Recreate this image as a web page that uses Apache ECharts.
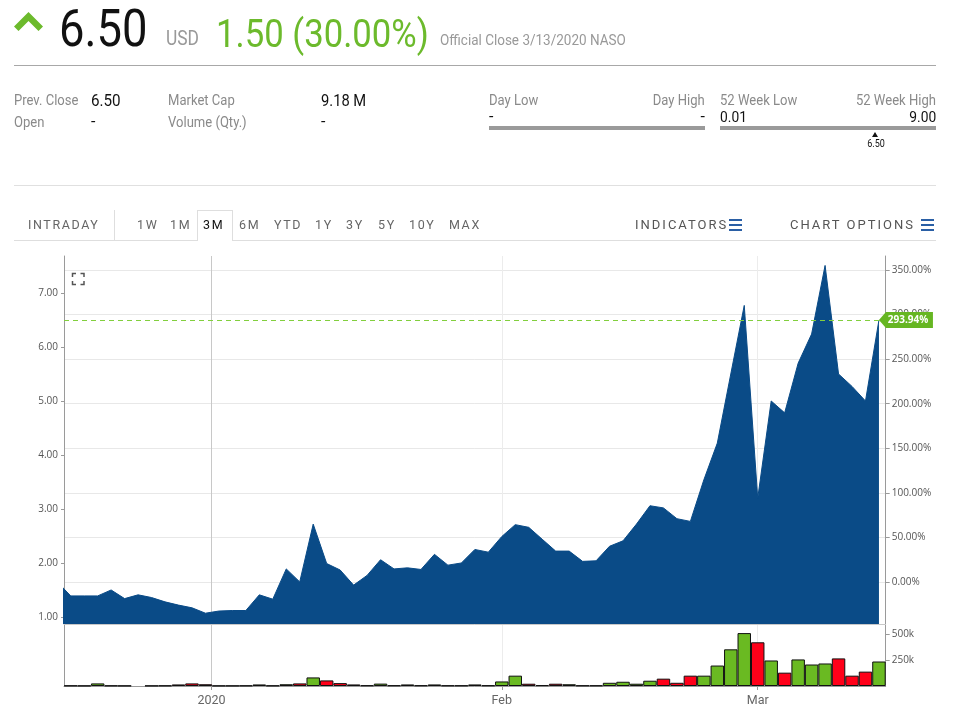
<!DOCTYPE html>
<html><head><meta charset="utf-8">
<script src="https://cdn.jsdelivr.net/npm/echarts@6/dist/echarts.min.js"></script>
<style>
html,body{margin:0;padding:0;background:#fff;}
#wrap{position:relative;width:963px;height:726px;overflow:hidden;}
#chart{position:absolute;left:0;top:0;width:963px;height:726px;}
.t{position:absolute;white-space:nowrap;line-height:1;font-family:"Roboto",sans-serif;}
.tab{font-family:"Roboto",sans-serif;letter-spacing:1.6px;font-size:12.5px;color:#666;}
.box{position:absolute;}
</style></head>
<body><div id="wrap"><div id="chart"></div></div>
<script>
// ---- data ----
const dates = ['2019-12-13','2019-12-16','2019-12-17','2019-12-18','2019-12-19','2019-12-20','2019-12-23','2019-12-24','2019-12-26','2019-12-27','2019-12-30','2019-12-31',
'2020-01-02','2020-01-03','2020-01-06','2020-01-07','2020-01-08','2020-01-09','2020-01-10','2020-01-13','2020-01-14','2020-01-15','2020-01-16','2020-01-17','2020-01-21','2020-01-22','2020-01-23','2020-01-24','2020-01-27','2020-01-28','2020-01-29','2020-01-30','2020-01-31',
'2020-02-03','2020-02-04','2020-02-05','2020-02-06','2020-02-07','2020-02-10','2020-02-11','2020-02-12','2020-02-13','2020-02-14','2020-02-18','2020-02-19','2020-02-20','2020-02-21','2020-02-24','2020-02-25','2020-02-26','2020-02-27','2020-02-28',
'2020-03-02','2020-03-03','2020-03-04','2020-03-05','2020-03-06','2020-03-09','2020-03-10','2020-03-11','2020-03-12','2020-03-13'];
const prices = [1.65,
1.39,1.39,1.39,1.50,1.34,1.41,1.36,1.28,1.22,1.17,
1.07,1.11,1.12,1.12,1.41,1.33,1.89,1.65,2.72,1.99,
1.87,1.59,1.77,2.06,1.89,1.91,1.88,2.16,1.96,2.00,
2.25,2.20,2.49,2.71,2.66,2.44,2.22,2.22,2.03,2.04,
2.31,2.41,2.72,3.06,3.02,2.82,2.77,3.54,4.22,5.50,
6.77,3.20,5.00,4.78,5.70,6.24,7.51,5.50,5.27,5.00,
6.50];
const volumes = [null,
4000,3000,25000,4000,3000,null,3000,4000,15000,25000,
17000,3000,3000,4000,15000,4000,17000,25000,83000,54000,
28000,15000,6000,23000,6000,15000,6000,15000,5000,5000,
15000,6000,44000,100000,22000,8000,22000,17000,5000,5000,
31000,41000,22000,51000,71000,31000,100000,100000,198000,355000,
512000,423000,247000,129000,257000,208000,218000,267000,100000,139000,
237000];
const priceTicks = [1,2,3,4,5,6,7];
const pctTicks = [0,50,100,150,200,250,300,350];
const volTicks = [250000,500000];
const volTickLabels = ['250k','500k'];
const monthTickPos = [11.45,33,52];
const monthTickLabels = ['2020','Feb','Mar'];

// header texts
const header = {
  price:'6.50', currency:'USD', change:'1.50 (30.00%)', note:'Official Close 3/13/2020 NASO',
  prevClose:'6.50', open:'-', marketCap:'9.18 M', volume:'-',
  dayLow:'-', dayHigh:'-', wkLow:0.01, wkHigh:9.00, current:6.50
};
const tabs = ['1W','1M','3M','6M','YTD','1Y','3Y','5Y','10Y','MAX'];
const tabX = [137,170,203,239,274,315,346,378,409,449];

// ---- overlay text ----
const wrap = document.getElementById('wrap');
function T(text, x, y, css, align, s, cls){
  s = s || 1;
  const d=document.createElement('div'); d.className='t '+(cls||''); d.textContent=text;
  d.style.cssText += (css||'');
  d.style.top=y+'px';
  if(align==='r'){ d.style.right=(963-x)+'px'; d.style.transformOrigin='right center'; d.style.transform=`translateY(-50%) scaleX(${s})`; }
  else if(align==='c'){ d.style.left=x+'px'; d.style.transformOrigin='center center'; d.style.transform=`translate(-50%,-50%) scaleX(${s})`; }
  else { d.style.left=x+'px'; d.style.transformOrigin='left center'; d.style.transform=`translateY(-50%) scaleX(${s})`; }
  wrap.appendChild(d); return d;
}
function B(x,y,w,h,css){const d=document.createElement('div');d.className='box';d.style.cssText=`left:${x}px;top:${y}px;width:${w}px;height:${h}px;`+(css||'');wrap.appendChild(d);return d;}

const N = 0.87;
T(header.price,59,28,'font-size:51px;color:#111;','l',0.89);
T(header.currency,166,38,'font-size:20px;color:#999;','l',N);
T(header.change,216,34,'font-size:39px;color:#6cba2c;','l',0.89);
T(header.note,440,40,'font-size:15px;color:#999;','l',0.9);
B(14,65,922,1,'background:#a8a8a8;');

const lab='font-size:15px;color:#8a8a8a;', val='font-size:16px;color:#111;';
T('Prev. Close',14,100,lab,'l',N); T(header.prevClose,91,101,val,'l',0.95);
T('Open',14,122,lab,'l',N); T(header.open,91,122,val);
T('Market Cap',168,100,lab,'l',N); T(header.marketCap,321,101,val,'l',0.92);
T('Volume (Qty.)',168,122,lab,'l',N); T(header.volume,321,122,val);
T('Day Low',489,100,lab,'l',N); T('Day High',705,100,lab,'r',N);
T(header.dayLow,489,117,val); T(header.dayHigh,705,117,val,'r');
B(489,126,216,4,'background:#9a9a9a;');
T('52 Week Low',720,100,lab,'l',N); T('52 Week High',936,100,lab,'r',N);
T(header.wkLow.toFixed(2),720,117,'font-size:15px;color:#111;','l',0.92); T(header.wkHigh.toFixed(2),936,117,'font-size:15px;color:#111;','r',0.92);
B(720,126,216,4,'background:#9a9a9a;');
const mx = 720 + (header.current-header.wkLow)/(header.wkHigh-header.wkLow)*216;
B(mx-3.5,132,0,0,'border-left:3.5px solid transparent;border-right:3.5px solid transparent;border-bottom:5px solid #111;');
T(header.current.toFixed(2),mx,144,'font-size:10px;color:#111;','c',0.9);
B(14,185,922,1,'background:#e0e0e0;');

// tabs
B(14,240,922,1,'background:#dedede;');
B(197,210,34,30,'border:1px solid #dedede;border-bottom:none;background:#fff;');
B(114,210,1,30,'background:#dedede;');
T('INTRADAY',28,225,'','l',1,'tab');
tabs.forEach((s,i)=>{const d=T(s,tabX[i],225,'','l',1,'tab'); if(s==='3M') d.style.color='#111';});
T('INDICATORS',635,224,'font-size:13px;color:#555;letter-spacing:2px;','l',1,'tab');
T('CHART OPTIONS',790,224,'font-size:13px;color:#555;letter-spacing:2px;','l',1,'tab');
[729,921].forEach(x=>{[219,224,229].forEach(y=>B(x,y,13,1.5,'background:#2a5fa5;'));});

// ---- chart ----
const base = prices[0];
const pct = v => (v/base-1)*100;
const priceMin = 0.87, priceMax = 7.685;
const last = prices[prices.length-1];
const lastK = prices.length-1;
const up = '#6aba22', down = '#ff0019';
const areaColor = '#0a4b87';

const priceData = prices.map((p,k)=>[k,p]);
const volData = [];
volumes.forEach((v,k)=>{ if(v==null) return; const isUp = prices[k] >= prices[k-1];
  volData.push({value:[k,v], itemStyle:{color:isUp?up:down}}); });

const monthFmt = v => { let b=0; monthTickPos.forEach((p,i)=>{ if(Math.abs(p-v)<Math.abs(monthTickPos[b]-v)) b=i;}); return monthTickLabels[b]; };
const splitCols = ['#c8c8c8','#ececec','#ececec'];
const axisFont = '"Open Sans", sans-serif';

const chart = echarts.init(document.getElementById('chart'), null, {renderer:'canvas'});
chart.setOption({
  animation:false,
  grid:[
    {left:64, top:256, width:821.7, height:368},
    {left:64, top:624, width:821.7, height:62}
  ],
  xAxis:[
    {gridIndex:0, type:'value', min:0.5, max:61.5,
     axisLine:{show:true, onZero:false, lineStyle:{color:'#c8c8c8'}},
     axisTick:{show:false, customValues:monthTickPos}, axisLabel:{show:false, customValues:monthTickPos},
     splitLine:{show:true, lineStyle:{color:splitCols, width:1}}},
    {gridIndex:1, type:'value', min:0.5, max:61.5,
     axisLine:{show:true, onZero:false, lineStyle:{color:'#9a9a9a'}},
     axisTick:{show:true, customValues:monthTickPos, length:4, lineStyle:{color:'#9a9a9a'}},
     axisLabel:{customValues:monthTickPos, formatter:monthFmt, color:'#666', fontSize:12.5, fontFamily:'Roboto, sans-serif', margin:8},
     splitLine:{show:true, lineStyle:{color:splitCols, width:1}}}
  ],
  yAxis:[
    {gridIndex:0, type:'value', position:'left', min:priceMin, max:priceMax,
     axisLine:{show:true, onZero:false, lineStyle:{color:'#9a9a9a'}},
     axisTick:{show:true, customValues:priceTicks, length:3, lineStyle:{color:'#9a9a9a'}},
     axisLabel:{customValues:priceTicks, formatter:v=>Number(v).toFixed(2), color:'#555', fontSize:10, fontFamily:axisFont, margin:6},
     splitLine:{show:false}},
    {gridIndex:0, type:'value', position:'right', min:pct(priceMin), max:pct(priceMax),
     axisLine:{show:true, onZero:false, lineStyle:{color:'#9a9a9a'}},
     axisTick:{show:true, customValues:pctTicks, length:4, lineStyle:{color:'#9a9a9a'}},
     axisLabel:{customValues:pctTicks, formatter:v=>Number(v).toFixed(2)+'%', color:'#555', fontSize:10, fontFamily:axisFont, margin:6},
     splitLine:{show:true, lineStyle:{color:'#e8e8e8'}}},
    {gridIndex:1, type:'value', position:'right', min:0, max:600000,
     axisLine:{show:true, onZero:false, lineStyle:{color:'#9a9a9a'}},
     axisTick:{show:true, customValues:volTicks, length:4, lineStyle:{color:'#9a9a9a'}},
     axisLabel:{customValues:volTicks, formatter:v=>volTickLabels[volTicks.indexOf(Number(v))], color:'#555', fontSize:10, fontFamily:axisFont, margin:6},
     splitLine:{show:false}},
    {gridIndex:1, type:'value', position:'left', min:0, max:600000,
     axisLine:{show:true, onZero:false, lineStyle:{color:'#9a9a9a'}},
     axisTick:{show:false}, axisLabel:{show:false}, splitLine:{show:false}}
  ],
  graphic:[
    {type:'polygon', shape:{points:[[28.5,12],[14,26.5],[18.5,31],[28.5,21],[38.5,31],[43,26.5]]}, style:{fill:'#6cba2c'}},
    {type:'polyline', shape:{points:[[72.5,277],[72.5,273.5],[76,273.5]]}, style:{stroke:'#555', lineWidth:1.5, fill:null}},
    {type:'polyline', shape:{points:[[80.5,273.5],[84,273.5],[84,277]]}, style:{stroke:'#555', lineWidth:1.5, fill:null}},
    {type:'polyline', shape:{points:[[72.5,281],[72.5,284.5],[76,284.5]]}, style:{stroke:'#555', lineWidth:1.5, fill:null}},
    {type:'polyline', shape:{points:[[80.5,284.5],[84,284.5],[84,281]]}, style:{stroke:'#555', lineWidth:1.5, fill:null}}
  ],
  series:[
    {type:'line', xAxisIndex:0, yAxisIndex:0, data:priceData, symbol:'none', silent:true,
     lineStyle:{width:1, color:areaColor}, areaStyle:{color:areaColor, opacity:1},
     markLine:{silent:true, symbol:['none','none'], label:{show:false},
       lineStyle:{type:[5,4], color:'#82cf3e', width:1},
       data:[[{coord:[0.5,last]},{coord:[lastK,last]}]]},
     markPoint:{silent:true, data:[{coord:[lastK,last]}],
       symbol:'path://M0,8L7,0L54,0L54,16L7,16Z', symbolSize:[54,16], symbolOffset:[27,0],
       itemStyle:{color:'#66b622'},
       label:{show:true, position:'inside', offset:[2,0], formatter:pct(last).toFixed(2)+'%', color:'#fff', fontSize:10, fontWeight:'bold', fontFamily:axisFont}}
    },
    {type:'bar', xAxisIndex:1, yAxisIndex:2, data:volData, barWidth:'100%', silent:true,
     itemStyle:{borderColor:'#111', borderWidth:1}}
  ]
});
</script>
</body></html>
